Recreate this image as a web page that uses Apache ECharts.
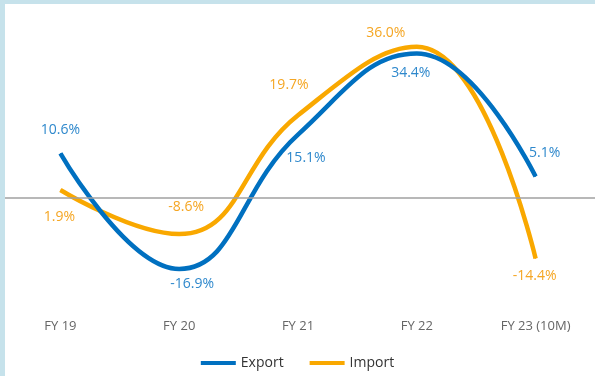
<!DOCTYPE html>
<html><head><meta charset="utf-8">
<script src="https://cdn.jsdelivr.net/npm/echarts@6/dist/echarts.min.js"></script>
<style>html,body{margin:0;padding:0;background:#fff}#c{width:595px;height:376px}</style>
</head><body><div id="c"></div>
<script>
var categories = ['FY 19', 'FY 20', 'FY 21', 'FY 22', 'FY 23 (10M)'];
var exportValues = [10.6, -16.9, 15.1, 34.4, 5.1];
var importValues = [1.9, -8.6, 19.7, 36.0, -14.4];
var exportLabelOffsets = [[0,-23],[13,15],[8,23],[-6,19],[9,-24]];
var importLabelOffsets = [[-1,27],[7,-27],[-9,-30],[-31,-14],[-1,18]];

var font = '"Open Sans", "Noto Sans", sans-serif';
function mk(vals, offs){
  return vals.map(function(v,i){
    return {value:v, label:{offset:offs[i]}};
  });
}
var chart = echarts.init(document.getElementById('c'));
chart.setOption({
  animation:false,
  graphic:[
    {type:'rect', left:0, top:0, shape:{width:5,height:376}, style:{fill:'#c6e2eb'}, z:100},
    {type:'rect', left:0, top:0, shape:{width:595,height:4}, style:{fill:'#c6e2eb'}, z:100}
  ],
  grid:{left:1, width:600, top:30, height:252},
  legend:{
    bottom:1, left:'center', itemWidth:35, itemHeight:4, itemGap:26,
    textStyle:{fontFamily:font, fontSize:14, color:'#333'},
    data:[{name:'Export', icon:'rect'},{name:'Import', icon:'rect'}]
  },
  xAxis:{
    type:'category', data:categories, boundaryGap:true,
    axisLine:{show:false}, axisTick:{show:false},
    axisLabel:{margin:38, color:'#666', fontFamily:font, fontSize:13}
  },
  yAxis:{type:'value', min:-20, max:40, show:false, splitLine:{show:false}},
  series:[
    {name:'Export', type:'line', smooth:0.45, data:mk(exportValues, exportLabelOffsets),
     symbol:'circle', symbolSize:1, color:'#0070c0',
     lineStyle:{width:4.5, color:'#0070c0'}, z:3,
     label:{show:true, position:'inside', color:'#2e88cc', fontFamily:font, fontSize:14,
       formatter:function(p){return p.value.toFixed(1)+'%';}},
     markLine:{silent:true, symbol:'none', label:{show:false},
       lineStyle:{color:'#a0a0a0', width:1.5, type:'solid'}, data:[{yAxis:0}]}
    },
    {name:'Import', type:'line', smooth:0.45, data:mk(importValues, importLabelOffsets),
     symbol:'circle', symbolSize:1, color:'#f9a800',
     lineStyle:{width:4.5, color:'#f9a800'}, z:2,
     label:{show:true, position:'inside', color:'#f5a623', fontFamily:font, fontSize:14,
       formatter:function(p){return p.value.toFixed(1)+'%';}}
    }
  ]
});
</script></body></html>
